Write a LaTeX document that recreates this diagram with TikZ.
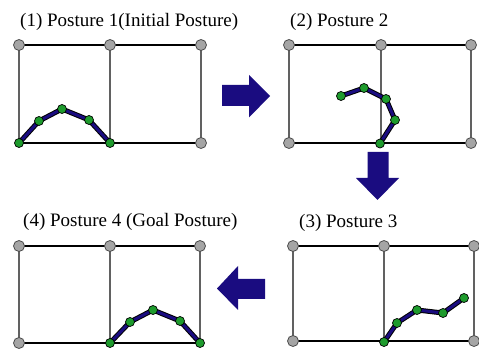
\documentclass[tikz,border=0pt]{standalone}
\usepackage{fontspec}
\setmainfont{Liberation Serif}
\definecolor{navy}{RGB}{26,12,128}
\definecolor{jointgreen}{RGB}{30,155,45}
\definecolor{pingray}{RGB}{165,165,165}
\begin{document}
\begin{tikzpicture}[x=1pt,y=-1pt,
  pin/.style={circle,draw=black!70,fill=pingray,line width=0.8pt,minimum size=11pt,inner sep=0pt},
  joint/.style={circle,draw=black,fill=jointgreen,line width=0.7pt,minimum size=9pt,inner sep=0pt},
  hline/.style={draw=black,line width=1.1pt},
  vline/.style={draw=black!62,line width=1.1pt},
  chainout/.style={line width=5pt,black,line cap=round,line join=round},
  chainin/.style={line width=3pt,navy,line cap=round,line join=round},
  blockarrow/.style={fill=navy,draw=none},
  title/.style={anchor=base west,inner sep=0pt,font=\rmfamily\fontsize{19}{22}\selectfont}]
\useasboundingbox (0,0) rectangle (479,352);

% ---------- Panel 1 ----------
\node[title] (t1) at (20,27) {(1) Posture 1(Initial Posture)};
\coordinate (p1a) at (19,45); \coordinate (p1b) at (110,45); \coordinate (p1c) at (201,45);
\coordinate (p1d) at (19,143); \coordinate (p1e) at (110,143); \coordinate (p1f) at (201,143);
\draw[vline] (p1a) -- (p1d); \draw[vline] (p1b) -- (p1e); \draw[vline] (p1c) -- (p1f);
\draw[hline] (p1a) -- (p1c); \draw[hline] (p1d) -- (p1f);
\foreach \c in {p1a,p1b,p1c,p1f} \node[pin] at (\c) {};
\coordinate (c1a) at (19,143); \coordinate (c1b) at (39,121); \coordinate (c1c) at (62,109);
\coordinate (c1d) at (89,120); \coordinate (c1e) at (110,143);
\draw[chainout] (c1a) -- (c1b) -- (c1c) -- (c1d) -- (c1e);
\draw[chainin] (c1a) -- (c1b) -- (c1c) -- (c1d) -- (c1e);
\foreach \c in {c1a,c1b,c1c,c1d,c1e} \node[joint] at (\c) {};

% ---------- Panel 2 ----------
\node[title] (t2) at (290,27) {(2) Posture 2};
\coordinate (p2a) at (289,45); \coordinate (p2b) at (381,45); \coordinate (p2c) at (471,45);
\coordinate (p2d) at (289,143); \coordinate (p2e) at (381,143); \coordinate (p2f) at (471,143);
\draw[vline] (p2a) -- (p2d); \draw[vline] (p2b) -- (p2e); \draw[vline] (p2c) -- (p2f);
\draw[hline] (p2a) -- (p2c); \draw[hline] (p2d) -- (p2f);
\foreach \c in {p2a,p2b,p2c,p2d,p2f} \node[pin] at (\c) {};
\coordinate (c2a) at (341,96); \coordinate (c2b) at (364,88); \coordinate (c2c) at (386,99);
\coordinate (c2d) at (395,120); \coordinate (c2e) at (380,143.5);
\draw[chainout] (c2a) -- (c2b) -- (c2c) -- (c2d) -- (c2e);
\draw[chainin] (c2a) -- (c2b) -- (c2c) -- (c2d) -- (c2e);
\foreach \c in {c2a,c2b,c2c,c2d,c2e} \node[joint] at (\c) {};

% ---------- Panel 3 ----------
\node[title] (t3) at (299,227.5) {(3) Posture 3};
\coordinate (p3a) at (293,246); \coordinate (p3b) at (384,246); \coordinate (p3c) at (474,246);
\coordinate (p3d) at (293,341); \coordinate (p3e) at (384,341); \coordinate (p3f) at (474,341);
\draw[vline] (p3a) -- (p3d); \draw[vline] (p3b) -- (p3e); \draw[vline] (p3c) -- (p3f);
\draw[hline] (p3a) -- (p3c); \draw[hline] (p3d) -- (p3f);
\foreach \c in {p3a,p3b,p3c,p3d,p3f} \node[pin] at (\c) {};
\coordinate (c3a) at (384,342); \coordinate (c3b) at (397,323); \coordinate (c3c) at (417,310);
\coordinate (c3d) at (443,313); \coordinate (c3e) at (464,298);
\draw[chainout] (c3a) -- (c3b) -- (c3c) -- (c3d) -- (c3e);
\draw[chainin] (c3a) -- (c3b) -- (c3c) -- (c3d) -- (c3e);
\foreach \c in {c3a,c3b,c3c,c3d,c3e} \node[joint] at (\c) {};

% ---------- Panel 4 ----------
\node[title] (t4) at (23,226.5) {(4) Posture 4 (Goal Posture)};
\coordinate (p4a) at (19,246); \coordinate (p4b) at (110,246); \coordinate (p4c) at (200,246);
\coordinate (p4d) at (19,343); \coordinate (p4e) at (110,343); \coordinate (p4f) at (200,343);
\draw[vline] (p4a) -- (p4d); \draw[vline] (p4b) -- (p4e); \draw[vline] (p4c) -- (p4f);
\draw[hline] (p4a) -- (p4c); \draw[hline] (p4d) -- (p4f);
\foreach \c in {p4a,p4b,p4c,p4d} \node[pin] at (\c) {};
\coordinate (c4a) at (110,343); \coordinate (c4b) at (130,322); \coordinate (c4c) at (153,310);
\coordinate (c4d) at (180,321); \coordinate (c4e) at (200,343);
\draw[chainout] (c4a) -- (c4b) -- (c4c) -- (c4d) -- (c4e);
\draw[chainin] (c4a) -- (c4b) -- (c4c) -- (c4d) -- (c4e);
\foreach \c in {c4a,c4b,c4c,c4d,c4e} \node[joint] at (\c) {};

% ---------- Block arrows ----------
\fill[blockarrow] (222,85) -- (249,85) -- (249,75) -- (270,96) -- (249,117.5) -- (249,106) -- (222,106) -- cycle;
\fill[blockarrow] (367.5,152) -- (388.5,152) -- (388.5,178) -- (399,178) -- (377.5,200) -- (356,178) -- (367.5,178) -- cycle;
\fill[blockarrow] (265,279) -- (238,279) -- (238,266) -- (217,288.5) -- (238,310) -- (238,299) -- (265,299) -- cycle;
\end{tikzpicture}
\end{document}
